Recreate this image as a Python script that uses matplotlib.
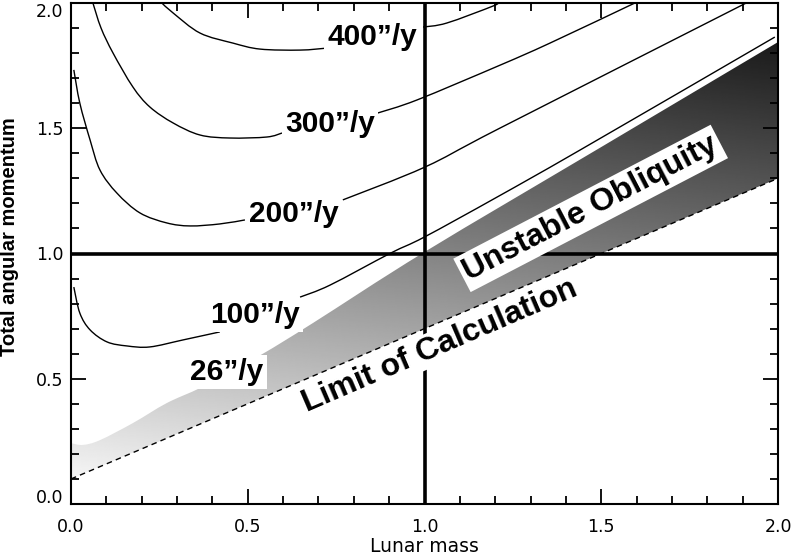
import numpy as np
import matplotlib
matplotlib.use("Agg")
import matplotlib.pyplot as plt
from matplotlib.path import Path
from matplotlib.patches import PathPatch

# ---------------- data ----------------
nan = np.nan
c400_x = [0.257, 0.289, 0.365, 0.458, 0.535, 0.648, 0.724, nan, 0.996, 1.063, 1.194, 1.205]
c400_y = [2.000, 1.960, 1.880, 1.840, 1.816, 1.812, 1.820, nan, 1.904, 1.920, 1.988, 2.000]

c300_x = [0.062, 0.085, 0.119, 0.175, 0.223, 0.289, 0.365, 0.450, 0.554, 0.597, nan, 0.868, 0.979, 1.214, 1.355, 1.595]
c300_y = [2.000, 1.900, 1.800, 1.665, 1.585, 1.521, 1.473, 1.461, 1.465, 1.481, nan, 1.561, 1.613, 1.752, 1.840, 2.000]

c200_x = [0.008, 0.025, 0.054, 0.082, 0.130, 0.195, 0.271, 0.337, 0.421, 0.492, nan, 0.769, 1.001, 1.214, 1.910]
c200_y = [1.733, 1.600, 1.453, 1.333, 1.241, 1.162, 1.122, 1.110, 1.118, 1.134, nan, 1.214, 1.345, 1.501, 2.000]

c100_x = [0.008, 0.025, 0.054, 0.102, 0.158, 0.223, 0.317, 0.421, nan, 0.648, 0.733, 0.902, 1.000, 1.205, 1.440, 1.991]
c100_y = [0.866, 0.762, 0.695, 0.647, 0.631, 0.627, 0.655, 0.687, nan, 0.826, 0.874, 1.000, 1.066, 1.225, 1.413, 1.864]

# upper edge of the unstable-obliquity region (26"/y)
unstable_top_x = [0.0, 0.034, 0.082, 0.175, 0.271, 0.365, 0.450, 0.543, 0.685, 1.000, 1.500, 2.000]
unstable_top_y = [0.243, 0.236, 0.255, 0.323, 0.403, 0.463, 0.530, 0.600, 0.723, 1.006, 1.425, 1.844]

# limit of calculation (dashed)
limit_x = [0.0, 2.0]
limit_y = [0.10, 1.30]

# reference (present Earth-Moon) lines
ref_mass = 1.0
ref_momentum = 1.0

contour_labels = ["400\u201d/y", "300\u201d/y", "200\u201d/y", "100\u201d/y", "26\u201d/y"]
label_x = [0.852, 0.733, 0.631, 0.520, 0.441]
label_y = [1.832, 1.485, 1.126, 0.723, 0.495]

xticks = [0.0, 0.5, 1.0, 1.5, 2.0]
xtick_labels = ["0.0", "0.5", "1.0", "1.5", "2.0"]
yticks = [0.0, 0.5, 1.0, 1.5, 2.0]
ytick_labels = ["0.0", "0.5", "1.0", "1.5", "2.0"]


# ---------------- helpers ----------------
def smooth_path(xs, ys, sy=0.71):
    """Smooth (Catmull-Rom as cubic Bezier) path through the read points;
    NaN entries split the curve into separate pieces."""
    xs = np.asarray(xs, float)
    ys = np.asarray(ys, float)
    verts, codes = [], []
    pieces, cur = [], []
    for x, y in zip(xs, ys):
        if np.isnan(x):
            if cur:
                pieces.append(cur)
            cur = []
        else:
            cur.append((x, y * sy))
    if cur:
        pieces.append(cur)
    for p in pieces:
        p = np.array(p)
        n = len(p)
        verts.append(p[0]); codes.append(Path.MOVETO)
        for i in range(n - 1):
            p0 = p[i - 1] if i > 0 else p[i]
            p1, p2 = p[i], p[i + 1]
            p3 = p[i + 2] if i + 2 < n else p[i + 1]
            c1 = p1 + (p2 - p0) / 6.0
            c2 = p2 - (p3 - p1) / 6.0
            verts += [c1, c2, p2]
            codes += [Path.CURVE4] * 3
    verts = np.array(verts)
    verts[:, 1] /= sy
    return Path(verts, codes)


# ---------------- figure ----------------
W, H = 794, 556
fig = plt.figure(figsize=(W / 100, H / 100), dpi=100)
ax = fig.add_axes([71 / W, 52 / H, 707 / W, 501 / H])
ax.set_xlim(0, 2)
ax.set_ylim(0, 2)

# gray shaded unstable region
gx = np.linspace(0, 2, 400)
gy = np.linspace(0, 2, 400)
GX, GY = np.meshgrid(gx, gy)
shade = 1.0 - 0.08 * GX - 0.40 * GY
im = ax.imshow(shade, extent=[0, 2, 0, 2], origin="lower", cmap="gray",
               vmin=0, vmax=1, interpolation="bilinear", aspect="auto", zorder=1)
top_path = smooth_path(unstable_top_x, unstable_top_y)
clip_verts = np.vstack([top_path.vertices,
                        [[limit_x[1], limit_y[1]], [limit_x[0], limit_y[0]],
                         [unstable_top_x[0], unstable_top_y[0]]]])
clip_codes = list(top_path.codes) + [Path.LINETO, Path.LINETO, Path.CLOSEPOLY]
patch = PathPatch(Path(clip_verts, clip_codes), transform=ax.transData,
                  facecolor="none", edgecolor="none")
ax.add_patch(patch)
im.set_clip_path(patch)

# contours
for cx, cy in [(c400_x, c400_y), (c300_x, c300_y), (c200_x, c200_y), (c100_x, c100_y)]:
    ax.add_patch(PathPatch(smooth_path(cx, cy), facecolor="none", edgecolor="black",
                           lw=1.0, zorder=2))

# thick reference lines
ax.axvline(ref_mass, color="black", lw=2.6, zorder=3)
ax.axhline(ref_momentum, color="black", lw=2.6, zorder=3)

# labels
for s, lx, ly in zip(contour_labels, label_x, label_y):
    ax.text(lx, ly, s, ha="center", va="baseline", fontsize=21.5, fontweight="bold",
            family="Liberation Sans", zorder=5,
            bbox=dict(boxstyle="square,pad=0.1", fc="white", ec="none"))

ax.text(1.47, 1.18, "Unstable Obliquity", ha="center", va="center", rotation=27.5,
        rotation_mode="anchor", fontsize=23, fontweight="bold", family="Liberation Sans",
        zorder=5, bbox=dict(boxstyle="square,pad=0.12", fc="white", ec="none"))
ax.text(1.044, 0.632, "Limit of Calculation", ha="center", va="center", rotation=23.3,
        rotation_mode="anchor", fontsize=23, fontweight="bold", family="Liberation Sans",
        zorder=5, bbox=dict(boxstyle="square,pad=0.06", fc="white", ec="none"))

# dashed limit line (drawn over label boxes)
ax.plot(limit_x, limit_y, color="black", lw=1.0, dashes=(4, 3), zorder=6)

# axes styling
for sp in ax.spines.values():
    sp.set_linewidth(1.5)
    sp.set_zorder(7)
ax.set_xticks(xticks)
ax.set_xticklabels(xtick_labels)
ax.set_yticks(yticks)
ax.set_yticklabels(["", *ytick_labels[1:-1], ""])
ax.set_xticks(np.arange(0, 2.0001, 0.1), minor=True)
ax.set_yticks(np.arange(0, 2.0001, 0.1), minor=True)
ax.tick_params(which="both", direction="in", top=True, right=True, width=1.3, colors="black")
ax.tick_params(which="major", length=11)
ax.tick_params(which="minor", length=5.5)
ax.tick_params(axis="x", which="major", pad=10, labelsize=12.5)
ax.tick_params(axis="y", which="major", pad=5.5, labelsize=12.5)
for lab in ax.get_xticklabels() + ax.get_yticklabels():
    lab.set_family("DejaVu Sans")

# end y tick labels shifted inward like the reference
ax.annotate(ytick_labels[-1], xy=(0, yticks[-1]), xycoords="data", xytext=(-5.5, -6.5),
            textcoords="offset points", ha="right", va="center", fontsize=12.5, family="DejaVu Sans")
ax.annotate(ytick_labels[0], xy=(0, yticks[0]), xycoords="data", xytext=(-5.5, 4.5),
            textcoords="offset points", ha="right", va="center", fontsize=12.5, family="DejaVu Sans",
            annotation_clip=False)

ax.set_xlabel("Lunar mass", fontsize=13.5, family="DejaVu Sans", va="center")
ax.xaxis.set_label_coords(0.5, (504 - 546) / 501)
ax.set_ylabel("Total angular momentum", fontsize=14.5, fontweight="bold",
              family="Liberation Sans", va="center")
ax.yaxis.set_label_coords((10 - 71) / 707, (504 - 237) / 501)

fig.savefig("out.png", dpi=100)
